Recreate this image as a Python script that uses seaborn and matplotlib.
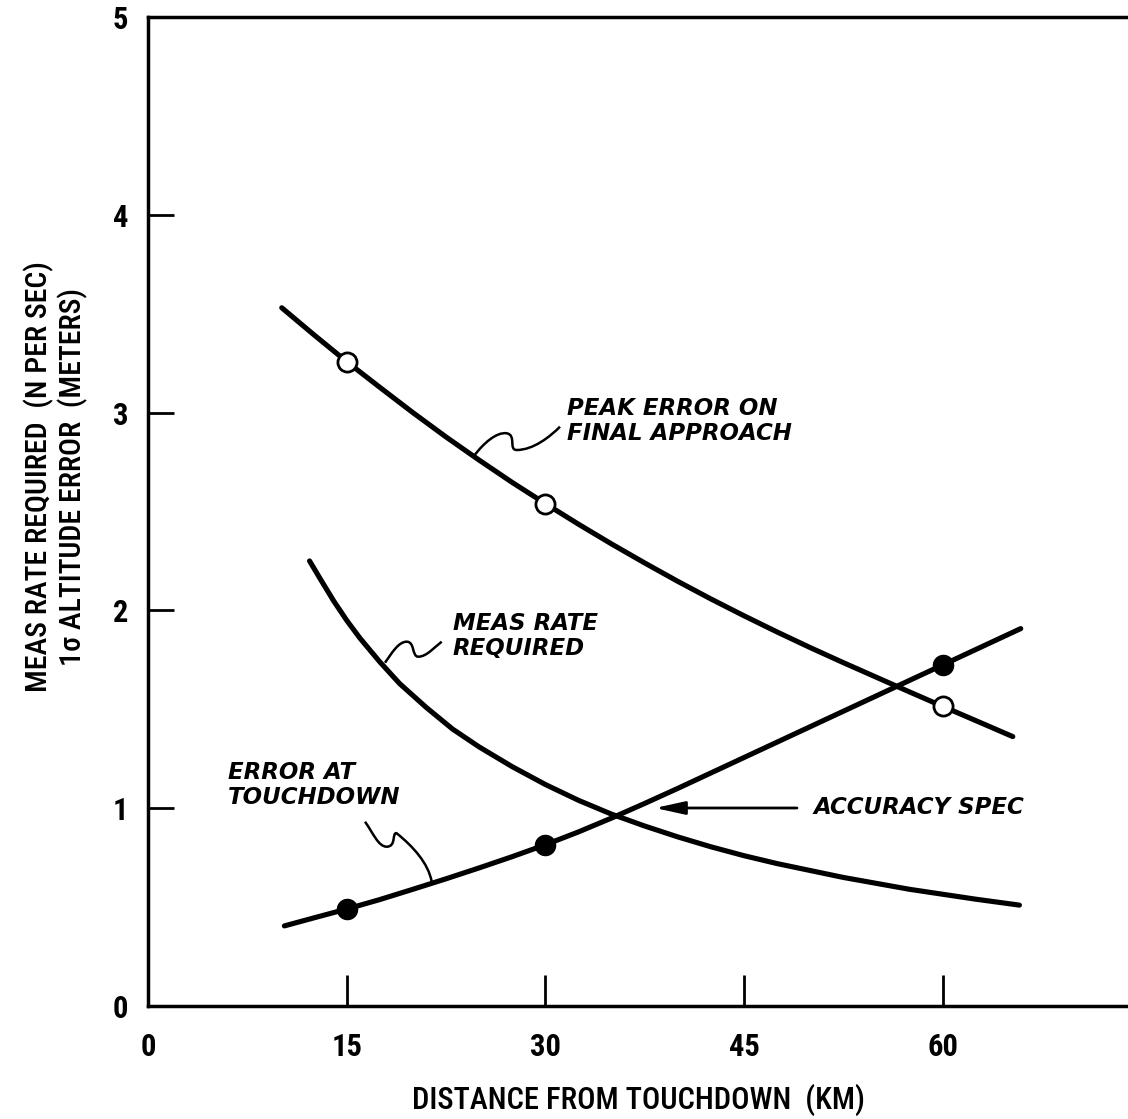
import numpy as np
import pandas as pd
import matplotlib
matplotlib.use("Agg")
import matplotlib.pyplot as plt
import seaborn as sns
from matplotlib.path import Path
from matplotlib.patches import PathPatch

# ---------------- data ----------------
peak_x = [10.1, 12.5, 15, 17.5, 20, 22.5, 25, 27.5, 30, 32.5, 35, 37.5, 40,
          42.5, 45, 47.5, 50, 52.5, 55, 57.5, 60, 62.5, 65.3]
peak_y = [3.53, 3.395, 3.258, 3.128, 3.0, 2.877, 2.76, 2.647, 2.54, 2.436,
          2.336, 2.24, 2.147, 2.058, 1.973, 1.891, 1.812, 1.736, 1.662, 1.588,
          1.515, 1.443, 1.362]

rate_x = [12.2, 13, 14, 15, 16, 17.5, 19, 21, 23, 25, 27.5, 30, 32.5, 35,
          37.5, 40, 42.5, 45, 47.5, 50, 52.5, 55, 57.5, 60, 62.5, 65.8]
rate_y = [2.25, 2.16, 2.05, 1.95, 1.86, 1.74, 1.63, 1.51, 1.40, 1.31, 1.21,
          1.12, 1.04, 0.97, 0.91, 0.855, 0.805, 0.76, 0.72, 0.685, 0.65, 0.62,
          0.59, 0.565, 0.54, 0.51]

err_x = [10.3, 12.5, 15, 17.5, 20, 22.5, 25, 27.5, 30, 32.5, 35, 37.5, 40,
         42.5, 45, 47.5, 50, 52.5, 55, 57.5, 60, 62.5, 65.9]
err_y = [0.405, 0.445, 0.49, 0.538, 0.59, 0.643, 0.698, 0.755, 0.815, 0.88,
         0.95, 1.024, 1.10, 1.178, 1.256, 1.334, 1.412, 1.49, 1.568, 1.646,
         1.724, 1.802, 1.908]

marker_x = [15, 30, 60]
peak_marker_y = [3.258, 2.54, 1.515]
err_marker_y = [0.49, 0.815, 1.724]

x_ticks = [0, 15, 30, 45, 60]
y_ticks = [0, 1, 2, 3, 4, 5]

x_label = "DISTANCE FROM TOUCHDOWN  (KM)"
y_label = "MEAS RATE REQUIRED  (N PER SEC)\n1\u03c3 ALTITUDE ERROR  (METERS)"

# ---------------- figure ----------------
sns.set_theme(style="white")
plt.rcParams['font.family'] = ['Roboto Condensed', 'DejaVu Sans']

W, H = 1128, 1119
fig = plt.figure(figsize=(W / 100, H / 100), dpi=100)
AX_L, AX_B, AX_R, AX_T = 148, 1006, 1128, 17
ax = fig.add_axes([AX_L / W, (H - AX_B) / H, (AX_R - AX_L) / W, (AX_B - AX_T) / H])
XMAX, YMAX = 74, 5
ax.set_xlim(0, XMAX)
ax.set_ylim(0, YMAX)


def px(X, Y):
    """pixel position in the picture -> data coordinates"""
    return ((X - AX_L) * XMAX / (AX_R - AX_L), (AX_B - Y) * YMAX / (AX_B - AX_T))


curves = pd.concat([
    pd.DataFrame({"x": peak_x, "y": peak_y, "curve": "peak"}),
    pd.DataFrame({"x": rate_x, "y": rate_y, "curve": "rate"}),
    pd.DataFrame({"x": err_x, "y": err_y, "curve": "err"}),
], ignore_index=True)

sns.lineplot(data=curves, x="x", y="y", units="curve", estimator=None,
             sort=False, color="black", linewidth=3.7, ax=ax,
             solid_capstyle="round", solid_joinstyle="round")

sns.scatterplot(x=marker_x, y=peak_marker_y, s=190, color="white",
                edgecolor="black", linewidth=2.0, zorder=4, ax=ax)
sns.scatterplot(x=marker_x, y=err_marker_y, s=210, color="black",
                edgecolor="black", linewidth=1.0, zorder=4, ax=ax)

# ---------------- axes styling ----------------
for side in ["left", "bottom", "top"]:
    ax.spines[side].set_visible(True)
    ax.spines[side].set_color("black")
    ax.spines[side].set_linewidth(2.5)
ax.spines["right"].set_visible(False)

ax.set_xticks(x_ticks)
ax.set_xticklabels([str(t) for t in x_ticks])
ax.set_yticks(y_ticks)
ax.set_yticklabels([str(t) for t in y_ticks])
ax.tick_params(axis="x", direction="in", length=22, width=2, pad=19,
               labelsize=22, colors="black", top=False, bottom=True)
ax.tick_params(axis="y", direction="in", length=19, width=2, pad=14,
               labelsize=22, colors="black", left=True, right=False)
for lab in ax.get_xticklabels() + ax.get_yticklabels():
    lab.set_fontweight("bold")

ax.set_xlabel(x_label, fontsize=22, fontweight="medium", color="black")
ax.xaxis.set_label_coords(0.5, (AX_B - 1100) / (AX_B - AX_T))
ax.xaxis.label.set_va("center")

ax.set_ylabel(y_label, fontsize=21.5, fontweight="medium", color="black",
              linespacing=1.15)
ax.yaxis.label.set_va("center")
ax.yaxis.set_label_coords((56 - AX_L) / (AX_R - AX_L), (AX_B - 477) / (AX_B - AX_T))

# ---------------- annotations ----------------
tkw = dict(fontsize=16.5, fontstyle="oblique", fontweight="bold", color="black",
           ha="left", va="center", linespacing=1.12, family="DejaVu Sans")
ax.text(*px(567, 421), "PEAK ERROR ON\nFINAL APPROACH", **tkw)
ax.text(*px(453, 636), "MEAS RATE\nREQUIRED", **tkw)
ax.text(*px(228, 785), "ERROR AT\nTOUCHDOWN", **tkw)
ax.text(*px(813, 808), "ACCURACY SPEC", **tkw)

ax.annotate("", xy=px(655, 808), xytext=px(797, 808),
            arrowprops=dict(arrowstyle="-|>,head_length=1.0,head_width=0.22",
                            mutation_scale=18, lw=2, color="black",
                            shrinkA=0, shrinkB=0))


def squiggle(pts):
    verts = [px(*p) for p in pts]
    codes = [Path.MOVETO] + [Path.CURVE4] * (len(verts) - 1)
    ax.add_patch(PathPatch(Path(verts, codes), facecolor="none",
                           edgecolor="black", lw=1.8, zorder=3))


squiggle([(474, 456), (483.3, 443.3), (496.7, 431.7), (506.7, 433.3),
          (516.7, 435), (508.3, 450), (516.7, 450),
          (533.3, 450), (550, 436.7), (560, 426.7)])
squiggle([(385, 662.7), (391.7, 653.3), (398.3, 641.7), (406.7, 641.7),
          (415, 641.7), (411.7, 656.7), (418.3, 656.7),
          (426.7, 656.7), (435, 646.7), (441.7, 641.7)])
squiggle([(431.7, 881.7), (428.3, 863.3), (413.3, 846.7), (396.7, 833.3),
          (391.7, 831.7), (396.7, 846.7), (386.7, 846.7),
          (378.3, 846.7), (373.3, 833.3), (365, 821.7)])

fig.savefig("out.png", dpi=100, facecolor="white")
